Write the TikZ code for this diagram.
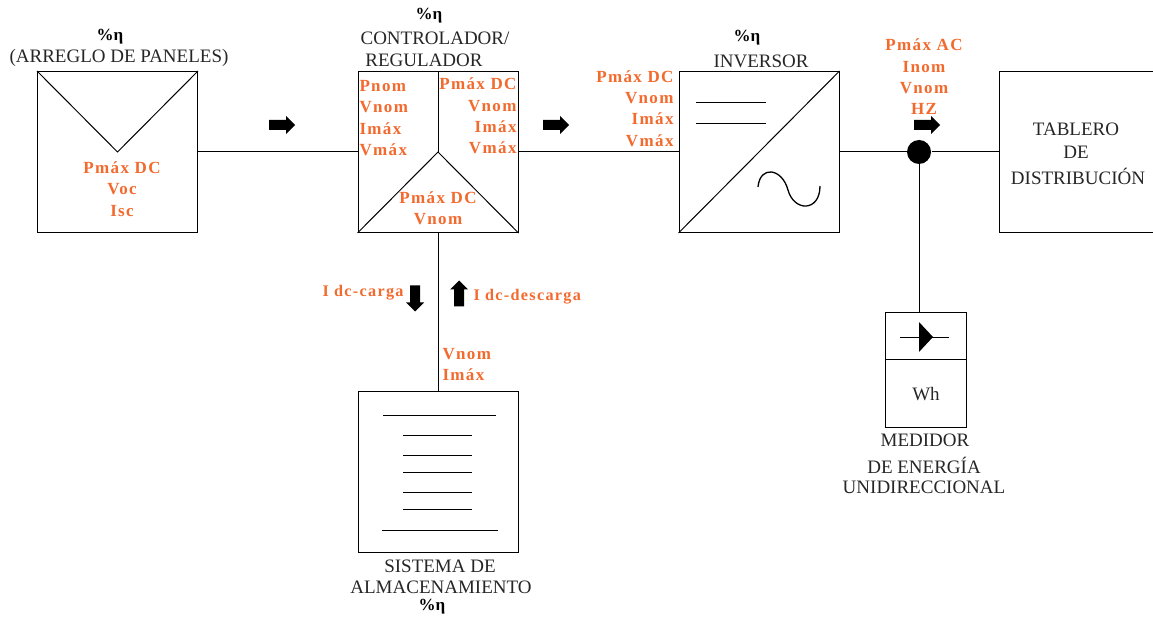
\documentclass[tikz,border=0pt]{standalone}
\usepackage{fontspec}
\usepackage{tikz}
\usetikzlibrary{shapes.arrows}
\setmainfont{Liberation Serif}
\newfontfamily\fuenteDatos[LetterSpace=8]{Liberation Serif}
\definecolor{naranja}{HTML}{F26A2E}
\tikzset{
    caja/.style={draw, minimum width=160pt, minimum height=161pt, inner sep=0pt},
    negro/.style={inner sep=0pt, align=center, text=black!85, font=\fontsize{19}{22}\selectfont},
    eta/.style={inner sep=0pt, font=\fontsize{17}{20}\selectfont\bfseries},
    dato/.style={inner sep=0pt, text=naranja, font=\fontsize{17}{21.3}\fuenteDatos\bfseries},
    corto/.style={dato, font=\fontsize{16.2}{21.3}\fuenteDatos\bfseries},
    flecha/.style={single arrow, fill=black, inner xsep=0pt, inner ysep=4.5pt, minimum height=26pt, single arrow head extend=4pt}
}
\begin{document}
\begin{tikzpicture}[x=1pt, y=-1pt, line width=1pt, >=latex]
            \useasboundingbox (0, 0) rectangle (1153, 617);
            \node[caja] (panel) at (117.5, 152) {};
            \node[caja] (control) at (438, 152) {};
            \node[caja] (inversor) at (759, 152) {};
            \node[caja] (bateria) at (438, 472) {};
            \node[draw, minimum width=81pt, minimum height=114pt, inner sep=0pt] (medidor) at (925.5, 370) {};
            \node[circle, fill=black, minimum size=24pt, inner sep=0pt] (union) at (919, 152) {};
            \coordinate (tablero) at (999, 152);

            \draw (panel.north west) -- (panel.center) -- (panel.north east);
            \draw (control.north) -- (control.center);
            \draw (control.south west) -- (control.center) -- (control.south east);
            \draw (inversor.south west) -- (inversor.north east);
            \draw (1153, 71.5) -- (999, 71.5) -- (999, 232.5) -- (1153, 232.5);

            \draw (panel) -- (control);
            \draw (control) -- (inversor);
            \draw (inversor) -- (union);
            \draw (union) -- (tablero);
            \draw (control) -- (bateria);
            \draw (union) -- (union |- medidor.north);

            \draw (696, 103) -- (766, 103);
            \draw (696, 124) -- (766, 124);
            \draw[line width=1.3pt] (758, 187) .. controls (760, 165) and (782, 168) .. (788, 190) .. controls (794, 212) and (820, 212) .. (820, 186);

            \foreach \y in {435, 455, 472, 492, 509}
            {
                \draw (403, \y) -- (472, \y);
            }
            \draw (383, 415) -- (496, 415);
            \draw (382, 530) -- (498, 530);

            \draw (medidor.west |- 359, 359) -- (medidor.east |- 359, 359);
            \draw (900, 337) -- (949, 337);
            \fill (919, 322) -- (933, 337) -- (919, 352) -- cycle;
            \node[negro] (wh) at (926, 394) {Wh};

            \node[flecha] (f1) at (279.5, 125) {};
            \node[flecha] (f2) at (553.5, 125) {};
            \node[flecha] (f3) at (924.5, 125) {};
            \node[flecha, rotate=-90] (f4) at (415, 296) {};
            \node[flecha, rotate=90] (f5) at (459, 296) {};

            \node[eta] (e1) at (110, 37) {\%η};
            \node[negro] (t1) at (119, 58) {(ARREGLO DE PANELES)};
            \node[eta] (e2) at (429, 16) {\%η};
            \node[negro] (t2) at (435, 38) {CONTROLADOR/};
            \node[negro] (t3) at (424, 60) {REGULADOR};
            \node[eta] (e3) at (747, 38) {\%η};
            \node[negro] (t4) at (761, 61) {INVERSOR};
            \node[negro] (t5) at (1076, 129) {TABLERO};
            \node[negro] (t6) at (1076, 152) {DE};
            \node[negro] (t7) at (1078, 176) {DISTRIBUCIÓN};
            \node[negro] (t8) at (925, 440) {MEDIDOR};
            \node[negro] (t9) at (924, 465) {DE ENERGÍA};
            \node[negro] (t10) at (924, 487) {UNIDIRECCIONAL};
            \node[negro] (t11) at (440, 566) {SISTEMA DE};
            \node[negro] (t12) at (441, 587) {ALMACENAMIENTO};
            \node[eta] (e4) at (432, 607) {\%η};

            \node[dato, align=center] (d1) at (122, 189) {Pmáx DC\\Voc\\Isc};
            \node[dato, align=left, anchor=west] (d2) at (359, 118) {Pnom\\Vnom\\Imáx\\Vmáx};
            \node[dato, align=right, anchor=east] (d3) at (517, 116) {Pmáx DC\\Vnom\\Imáx\\Vmáx};
            \node[dato, align=center] (d4) at (438, 208.5) {Pmáx DC\\Vnom};
            \node[dato, align=right, anchor=east] (d5) at (674, 108.5) {Pmáx DC\\Vnom\\Imáx\\Vmáx};
            \node[dato, align=center] (d6) at (924, 77) {Pmáx AC\\Inom\\Vnom\\HZ};
            \node[dato, align=left, anchor=west] (d7) at (442, 364.5) {Vnom\\Imáx};
            \node[corto, anchor=east] (d8) at (404, 293) {I dc-carga};
            \node[corto, anchor=west] (d9) at (473, 297) {I dc-descarga};
        \end{tikzpicture}
\end{document}
